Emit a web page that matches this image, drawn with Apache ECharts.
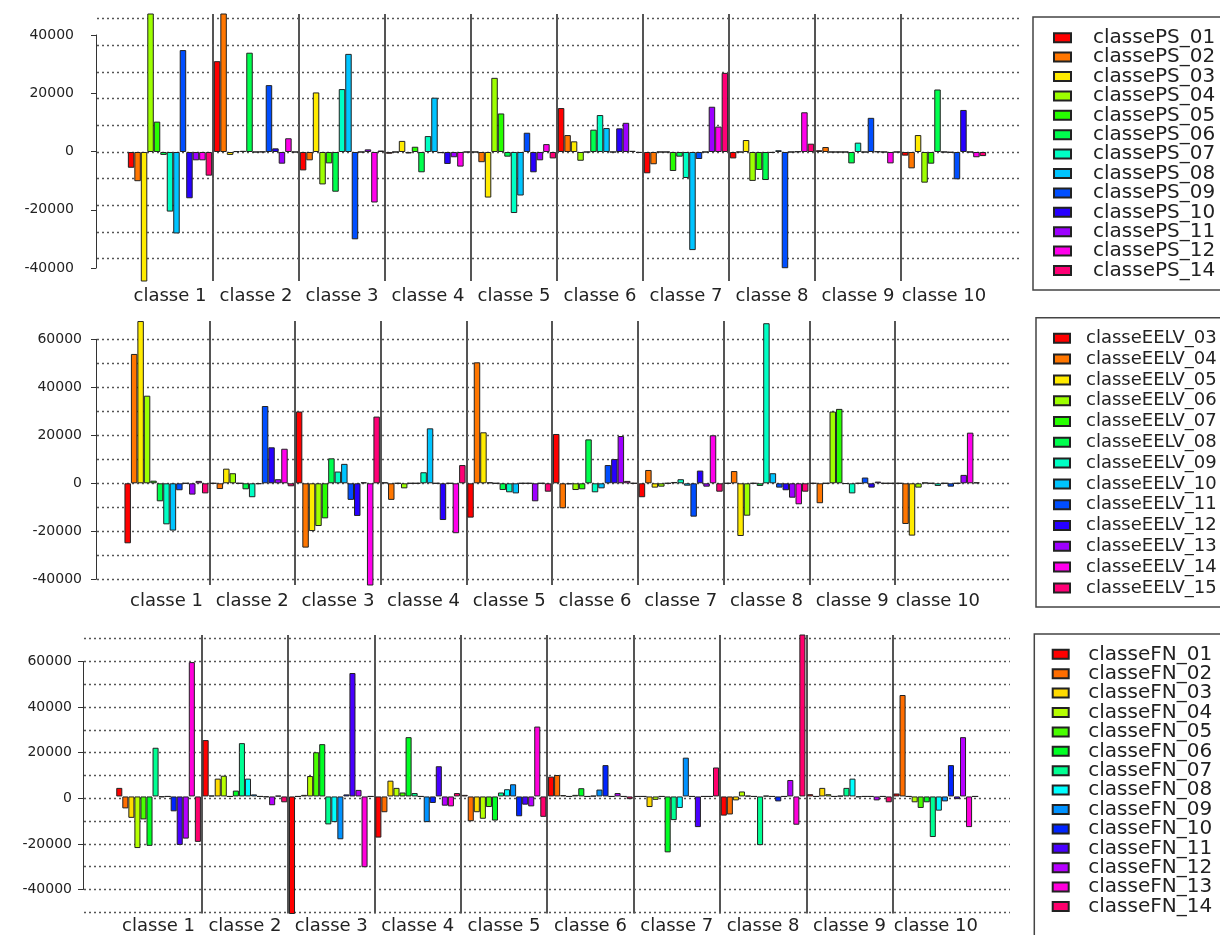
<!DOCTYPE html>
<html>
<head>
<meta charset="utf-8">
<script src="https://cdn.jsdelivr.net/npm/echarts@6/dist/echarts.min.js"></script>
<style>
html, body { margin: 0; padding: 0; background: #fff; }
#chart { width: 1220px; height: 935px; }
</style>
</head>
<body>
<div id="chart"></div>
<script>
// categories shared by the three panels
var categories = ['classe 1', 'classe 2', 'classe 3', 'classe 4', 'classe 5',
                  'classe 6', 'classe 7', 'classe 8', 'classe 9', 'classe 10'];

// panel 1 : PS
var psNames = ['classePS_01', 'classePS_02', 'classePS_03', 'classePS_04', 'classePS_05',
               'classePS_06', 'classePS_07', 'classePS_08', 'classePS_09', 'classePS_10',
               'classePS_11', 'classePS_12', 'classePS_14'];
var psValues = [
    [-5400, 31100, -6300, -600, 0, 15050, -7300, -2200, 600, -1250],
    [-10000, 48500, -2850, 0, -3500, 5800, -4200, 0, 1700, -5600],
    [-45000, -1000, 20400, 3800, -15600, 3650, 0, 4100, 0, 5800],
    [48500, 300, -11100, -500, 25400, -3000, 0, -9900, 0, -10500],
    [10400, 400, -3900, 1800, 13200, 0, -6500, -6150, 0, -4000],
    [-1000, 34000, -13600, -6950, -1600, 7650, -1600, -9600, -3900, 21400],
    [-20400, 0, 21550, 5450, -20900, 12650, -8900, -300, 3200, 0],
    [-27900, 100, 33600, 18600, -14900, 8200, -33600, 600, 0, -200],
    [34900, 22900, -29900, -400, 6600, 0, -2400, -39800, 11700, -9350],
    [-15850, 1250, 0, -4100, -6950, 8100, 0, 0, 200, 14400],
    [-2850, -4000, 900, -1800, -2850, 10000, 15500, 200, 0, 0],
    [-2850, 4700, -17300, -5000, 2700, 400, 8700, 13600, -3900, -1800],
    [-8100, 0, 500, 0, -2200, -300, 27100, 2850, 0, -1400]
];
var psTicks = [-40000, -20000, 0, 20000, 40000];

// panel 2 : EELV
var eelvNames = ['classeEELV_03', 'classeEELV_04', 'classeEELV_05', 'classeEELV_06', 'classeEELV_07',
                 'classeEELV_08', 'classeEELV_09', 'classeEELV_10', 'classeEELV_11', 'classeEELV_12',
                 'classeEELV_13', 'classeEELV_14', 'classeEELV_15'];
var eelvValues = [
    [-25000, 0, 29900, 400, -14300, 20550, -5800, 0, 0, 0],
    [53900, -2400, -26800, -6900, 50400, -10400, 5550, 5100, -8300, -16950],
    [67600, 6100, -19900, 0, 21250, -400, -1800, -21950, 0, -21800],
    [36500, 4200, -17800, -2100, 400, -2800, -1400, -13500, 29900, -1800],
    [1100, 0, -14600, 0, 0, -2500, 0, 0, 31000, 300],
    [-7500, -2500, 10400, 0, -2800, 18300, 550, -1100, -200, 0],
    [-17100, -5800, 4900, 4600, -3750, -3750, 1700, 66700, -4200, -1100],
    [-19700, -300, 8100, 22900, -4200, -2100, -1000, 4200, 0, 0],
    [-2900, 32200, -6900, 0, 0, 7600, -13900, -1800, 2400, -1400],
    [0, 15000, -13600, -15300, 0, 10100, 5300, -2900, -1800, 0],
    [-4700, 1700, 400, 0, -7500, 19700, -1400, -6000, 700, 3500],
    [1000, 14400, -43000, -20800, 0, 1000, 20000, -8750, 0, 21100],
    [-4200, -1250, 27800, 7600, -3500, 0, -3500, -3500, 0, 400]
];
var eelvTicks = [-40000, -20000, 0, 20000, 40000, 60000];

// panel 3 : FN
var fnNames = ['classeFN_01', 'classeFN_02', 'classeFN_03', 'classeFN_04', 'classeFN_05',
               'classeFN_06', 'classeFN_07', 'classeFN_08', 'classeFN_09', 'classeFN_10',
               'classeFN_11', 'classeFN_12', 'classeFN_13', 'classeFN_14'];
var fnValues = [
    [3800, 25000, -53000, -18250, 700, 8800, 0, -8500, 1000, 1300],
    [-5300, 400, 0, -7000, -11000, 9500, 0, -8000, 0, 45000],
    [-9500, 7900, 700, 7000, -7000, 600, -4700, -1750, 3800, 0],
    [-22900, 9200, 9050, 3800, -9900, 0, -1500, 2200, 1000, -2600],
    [-10200, 0, 19600, 1750, -4700, 700, 0, 300, 0, -5100],
    [-21900, 2600, 23200, 26300, -10700, 3650, -24800, 0, 300, -2600],
    [21600, 23650, -12400, 1500, 1750, 0, -10500, -21600, 3800, -18000],
    [-300, 7900, -11400, 0, 3200, 300, -5100, 300, 7900, -6300],
    [0, 900, -19000, -11400, 5400, 3050, 17200, 0, -300, -2200],
    [-6600, 0, 900, -2900, -8800, 13900, 0, -2200, 0, 13900],
    [-21500, -300, 54750, 13400, -3650, 0, -13600, 0, 0, -1200],
    [-18700, -3900, 2900, -4100, -4400, 1500, 0, 7300, -1750, 26300],
    [59600, 300, -31400, -4400, 31000, 0, 0, -12550, 0, -13600],
    [-20150, -2600, 0, 1500, -9050, -1200, 12850, 72500, -2600, 0]
];
var fnTicks = [-40000, -20000, 0, 20000, 40000, 60000];

// colours (rainbow palettes)
var rainbow13 = ['#FF0000', '#FF7600', '#FFEB00', '#9DFF00', '#27FF00', '#00FF4E', '#00FFC4',
                 '#00C4FF', '#004EFF', '#2700FF', '#9D00FF', '#FF00EB', '#FF0076'];
var rainbow14 = ['#FF0000', '#FF6D00', '#FFDB00', '#B6FF00', '#49FF00', '#00FF24', '#00FF92',
                 '#00FFFF', '#0092FF', '#0024FF', '#4900FF', '#B600FF', '#FF00DB', '#FF006D'];

var panels = [
    {
        names: psNames, values: psValues, ticks: psTicks, colors: rainbow13,
        bars: {left: 127, right: 233, top: 14, bottom: 654, min: -44180, max: 47260, labelMargin: 6},
        lines: {left: 97, right: 200, top: 18.6, bottom: 676.3, min: 0, max: 9, interval: 1},
        axis: {left: 96, top: 35, bottom: 667, margin: 22},
        legend: {left: 1033, top: 17, padding: [10.7, 40, 9.5, 20], gap: -0.6,
                 fontSize: 20, iconW: 17, textPad: 17}
    },
    {
        names: eelvNames, values: eelvValues, ticks: eelvTicks, colors: rainbow13,
        bars: {left: 123.6, right: 239.3, top: 321, bottom: 350, min: -42375, max: 67625, labelMargin: 7},
        lines: {left: 97, right: 208, top: 339.3, bottom: 355.7, min: -40000, max: 60000, interval: 10000},
        axis: {left: 96, top: 339.3, bottom: 355.7, margin: 14},
        legend: {left: 1036, top: 317.7, padding: [11.6, 40, 10, 17], gap: 2.8,
                 fontSize: 18, iconW: 16, textPad: 11}
    },
    {
        names: fnNames, values: fnValues, ticks: fnTicks, colors: rainbow14,
        bars: {left: 115.4, right: 241, top: 635, bottom: 18.3, min: -51930, max: 71620, labelMargin: 3.5},
        lines: {left: 84, right: 210, top: 638.7, bottom: 22.7, min: -50000, max: 70000, interval: 10000},
        axis: {left: 83, top: 661.5, bottom: 45.5, margin: 11},
        legend: {left: 1034.3, top: 634, padding: [10.3, 40, 30, 17.4], gap: -0.6,
                 fontSize: 20, iconW: 16, textPad: 14.6}
    }
];

var grid = [], xAxis = [], yAxis = [], series = [], legend = [];

panels.forEach(function (p) {
    var g = grid.length;

    // dotted horizontal grid lines
    grid.push({left: p.lines.left, right: p.lines.right, top: p.lines.top, bottom: p.lines.bottom});
    xAxis.push({type: 'value', gridIndex: g, show: false, min: 0, max: 1});
    yAxis.push({
        type: 'value', gridIndex: g, min: p.lines.min, max: p.lines.max, interval: p.lines.interval,
        axisLine: {show: false}, axisTick: {show: false}, axisLabel: {show: false},
        splitLine: {show: true, lineStyle: {color: '#555', type: [2, 3], width: 1.3}}
    });

    // left axis with its labels
    grid.push({left: p.axis.left, width: 20, top: p.axis.top, bottom: p.axis.bottom});
    xAxis.push({type: 'value', gridIndex: g + 1, show: false, min: 0, max: 1});
    yAxis.push({
        type: 'value', gridIndex: g + 1,
        min: p.ticks[0], max: p.ticks[p.ticks.length - 1], interval: p.ticks[1] - p.ticks[0],
        axisLine: {show: true, lineStyle: {color: '#333', width: 1}},
        axisTick: {show: true, length: 5, lineStyle: {color: '#333'}},
        axisLabel: {
            margin: p.axis.margin, fontFamily: 'DejaVu Sans', fontSize: 14, color: '#222',
            formatter: function (v) { return String(v); }
        },
        splitLine: {show: false}
    });

    // bars
    grid.push({left: p.bars.left, right: p.bars.right, top: p.bars.top, bottom: p.bars.bottom});
    xAxis.push({
        type: 'category', gridIndex: g + 2, data: categories,
        axisLine: {show: false, onZero: false}, axisTick: {show: false},
        axisLabel: {interval: 0, margin: p.bars.labelMargin, fontFamily: 'DejaVu Sans', fontSize: 18, color: '#222'},
        splitLine: {show: true, interval: 0, showMinLine: false, showMaxLine: false,
                    lineStyle: {color: '#555', width: 2}}
    });
    yAxis.push({type: 'value', gridIndex: g + 2, show: false, min: p.bars.min, max: p.bars.max});

    p.names.forEach(function (name, i) {
        series.push({
            type: 'bar', name: name, xAxisIndex: g + 2, yAxisIndex: g + 2,
            data: p.values[i], barGap: '0%', barCategoryGap: '2%',
            itemStyle: {color: p.colors[i], borderColor: '#222', borderWidth: 1},
            emphasis: {disabled: true}
        });
    });

    legend.push({
        data: p.names, orient: 'vertical', left: p.legend.left, top: p.legend.top, height: 400,
        padding: p.legend.padding, itemGap: p.legend.gap, itemWidth: p.legend.iconW, itemHeight: 9,
        icon: 'rect', selectedMode: false,
        borderColor: '#444', borderWidth: 1.5,
        textStyle: {fontFamily: 'DejaVu Sans', fontSize: p.legend.fontSize, color: '#222',
                    padding: [0, 0, 0, p.legend.textPad]}
    });
});

var chart = echarts.init(document.getElementById('chart'));
chart.setOption({
    animation: false,
    backgroundColor: '#fff',
    grid: grid,
    xAxis: xAxis,
    yAxis: yAxis,
    legend: legend,
    series: series
});
</script>
</body>
</html>
